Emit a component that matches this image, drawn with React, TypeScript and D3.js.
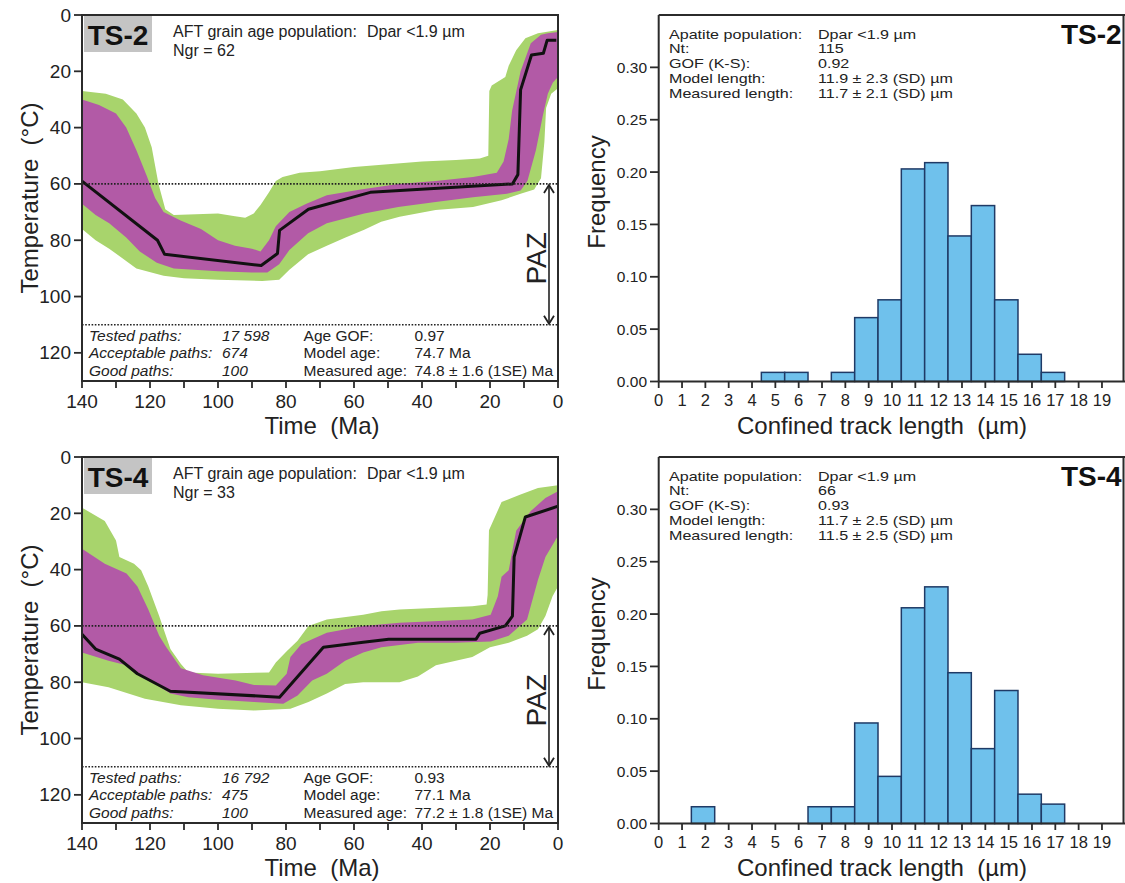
import React from "react";
import * as d3 from "d3";

const FONT = "'Liberation Sans', Arial, Helvetica, sans-serif";
const GREEN = "#a8d46c";
const PURPLE = "#b25aa6";
const BAR_FILL = "#6fc1ec";
const BAR_STROKE = "#1f3a66";
const AXIS = "#2b2b2b";
const PRE = { whiteSpace: "pre" as const };

type Pt = [number, number];

// ---------- TS-2 thermal history (age Ma, temperature °C) ----------
const ts2Best: Pt[] = [[140, 59], [117.8, 80], [115.7, 85], [87.3, 89], [82.5, 84.7], [81.9, 76.5], [73.4, 69], [55.2, 63], [13.4, 60], [11.8, 56.7], [11.0, 26.6], [7.8, 14.2], [4.3, 13.6], [3.2, 9], [0.5, 9]];
const ts2GreenTop: Pt[] = [[140, 27], [133, 28], [128, 30], [124, 35], [121.5, 40], [119.5, 47], [117.5, 60], [115.5, 69], [113, 71], [100, 70.5], [95, 71.5], [92, 72], [89.5, 70.5], [87.5, 67.5], [85, 63], [83, 59], [81, 57.5], [76, 56], [70, 55.5], [60, 54], [50, 53], [40, 52], [30, 51.5], [23, 51], [20.5, 50], [20.2, 27], [19.5, 25], [15.5, 22], [14.5, 18], [12.3, 12.5], [9.6, 8.3], [5.9, 6.5], [0, 5.3]];
const ts2GreenBot: Pt[] = [[140, 76], [136, 80], [132, 83], [124, 90], [116, 92.6], [110, 93.5], [100, 94], [87, 94.5], [82, 94], [79, 90.5], [73.5, 85], [68, 82], [62.5, 79], [57, 76.3], [52, 73.4], [46.6, 71.7], [36, 69.3], [25, 68.2], [16.6, 65.8], [11, 63.5], [7, 62], [5, 58], [4, 45], [3.5, 33], [2, 28], [0, 26]];
const ts2PurpleTop: Pt[] = [[140, 30], [135, 32], [130, 35], [127, 40], [124, 48], [121, 57], [118.5, 65], [116, 70], [111, 73], [105, 76], [100, 80], [95, 82], [90, 83], [87.5, 84], [85, 80], [83, 75], [79, 70], [74, 67], [68, 64], [58, 62], [47, 60], [36, 59], [25, 57.5], [18, 56], [16, 52], [14.5, 44], [13.5, 34], [11, 20], [8, 10], [5, 7], [3, 6.5], [0, 6]];
const ts2PurpleBot: Pt[] = [[140, 67], [136, 71], [132, 74], [127, 79], [123, 84], [118, 88], [113, 90], [100, 91], [90, 91.5], [85.5, 91.5], [82, 88.5], [79, 83.5], [73.5, 77.5], [68, 74], [57, 70.5], [47, 68.2], [36, 66.4], [25, 64.7], [15, 63.5], [11, 62.3], [9, 59], [6.5, 48], [4.5, 36], [3, 28], [1.5, 24], [0, 22]];

// ---------- TS-4 thermal history ----------
const ts4Best: Pt[] = [[140, 63], [136, 68.2], [129, 71.8], [123.7, 77], [114, 83.2], [81.9, 85.3], [69, 67.6], [57.3, 65.8], [49.8, 64.7], [24.1, 64.7], [23, 62.6], [15.5, 60], [13.4, 56.5], [12.9, 35.5], [9.6, 21.3], [0, 17.5]];
const ts4GreenTop: Pt[] = [[140, 18], [133.3, 22.7], [130, 29.7], [129, 35.5], [124.7, 37.9], [122.6, 40.2], [120.5, 46], [117.3, 56.5], [114, 68.2], [110.9, 73.5], [108.7, 76.5], [100, 77], [85, 76.5], [83, 73], [79.8, 69], [76.6, 65.3], [73.4, 60], [68, 57.7], [57.3, 56], [51.9, 54.8], [46.6, 54.2], [25.2, 53], [21, 52.4], [20.7, 49], [20.3, 26], [16.6, 16], [11.2, 13.4], [5.9, 11], [0, 10]];
const ts4GreenBot: Pt[] = [[140, 80], [132.2, 81.8], [121.5, 85.9], [110.9, 88.2], [100, 89.4], [89.4, 90], [78.7, 89.4], [73.4, 87], [68, 84], [62.6, 80.6], [57.3, 80], [46.6, 80], [41.2, 78], [35.9, 74], [25.2, 71], [20, 67.6], [14.5, 66], [9.1, 63.5], [5.9, 61.2], [3.7, 56.5], [1.6, 49.5], [0, 46]];
const ts4PurpleTop: Pt[] = [[140, 32.6], [133.3, 37.9], [126.9, 41.4], [123.7, 46], [120.5, 54.2], [117.3, 63.5], [115.2, 67.6], [110.9, 75], [104.4, 77.5], [94.8, 79.4], [89.4, 81], [83, 81.2], [79.8, 77], [78.7, 71], [75.5, 66.5], [72.3, 64.7], [68, 62.4], [57.3, 60], [46.6, 58.9], [25.2, 57.7], [19.8, 56], [17.7, 49.5], [16.6, 42.5], [14.5, 40.2], [12.3, 26.2], [8, 19.2], [3.7, 14.6], [0, 12.2]];
const ts4PurpleBot: Pt[] = [[140, 69.4], [132.2, 72.4], [126.9, 74], [121.5, 78.2], [114, 84], [108.7, 85.3], [100, 86.2], [89.4, 87], [80.8, 87.6], [76.6, 84.7], [72.3, 79.4], [68, 77], [62.6, 72.4], [57.3, 69.4], [51.9, 67.6], [41.2, 66], [30.5, 66], [19.8, 65.5], [14.5, 63.5], [9.1, 57.7], [5.9, 43.7], [3.7, 35.5], [0, 28]];

// ---------- track length histograms ----------
const ts2Bins = [5, 6, 8, 9, 10, 11, 12, 13, 14, 15, 16, 17];
const ts2Freq = [0.0087, 0.0087, 0.0087, 0.061, 0.078, 0.203, 0.209, 0.139, 0.168, 0.078, 0.026, 0.0087];
const ts4Bins = [2, 7, 8, 9, 10, 11, 12, 13, 14, 15, 16, 17];
const ts4Freq = [0.016, 0.016, 0.016, 0.096, 0.045, 0.206, 0.226, 0.144, 0.0715, 0.127, 0.028, 0.0185];

// ---------- axis ticks ----------
const timeTicks = [140, 120, 100, 80, 60, 40, 20, 0];
const timeMinorTicks = [130, 110, 90, 70, 50, 30, 10];
const tempTicks = [0, 20, 40, 60, 80, 100, 120];
const lengthTicks = d3.range(0, 20);
const freqTicks = [0, 0.05, 0.1, 0.15, 0.2, 0.25, 0.3];

// ---------- annotations ----------
const ts2Stats = [["Tested paths:", "17 598", "Age GOF:", "0.97"], ["Acceptable paths:", "674", "Model age:", "74.7 Ma"], ["Good paths:", "100", "Measured age:", "74.8 ± 1.6 (1SE) Ma"]];
const ts4Stats = [["Tested paths:", "16 792", "Age GOF:", "0.93"], ["Acceptable paths:", "475", "Model age:", "77.1 Ma"], ["Good paths:", "100", "Measured age:", "77.2 ± 1.8 (1SE) Ma"]];
const ts2Hist = [["Apatite population:", "Dpar <1.9 µm"], ["Nt:", "115"], ["GOF (K-S):", "0.92"], ["Model length:", "11.9 ± 2.3 (SD) µm"], ["Measured length:", "11.7 ± 2.1 (SD) µm"]];
const ts4Hist = [["Apatite population:", "Dpar <1.9 µm"], ["Nt:", "66"], ["GOF (K-S):", "0.93"], ["Model length:", "11.7 ± 2.5 (SD) µm"], ["Measured length:", "11.5 ± 2.5 (SD) µm"]];

const PAZ_TOP = 60;
const PAZ_BOT = 110;

interface THProps {
  dy: number; name: string; ngr: string; best: Pt[]; gTop: Pt[]; gBot: Pt[]; pTop: Pt[]; pBot: Pt[]; stats: string[][]; id: string;
}

function ThermalPanel(p: THProps) {
  const x = d3.scaleLinear().domain([140, 0]).range([82, 558]);
  const y = d3.scaleLinear().domain([0, 130]).range([15, 381]);
  const line = d3.line<Pt>().x((d) => x(d[0])).y((d) => y(d[1]));
  const poly = (top: Pt[], bot: Pt[]) => line(top.concat(bot.slice().reverse())) + "Z";
  const ax = 549;
  const fs = 15.5;
  return (
    <g transform={`translate(0,${p.dy})`} fontFamily={FONT}>
      <defs>
        <clipPath id={p.id}>
          <rect x={82} y={15} width={476} height={366} />
        </clipPath>
      </defs>
      <g clipPath={`url(#${p.id})`}>
        <path d={poly(p.gTop, p.gBot)} fill={GREEN} />
        <path d={poly(p.pTop, p.pBot)} fill={PURPLE} />
        <path d={line(p.best) || ""} fill="none" stroke="#111" strokeWidth={3} strokeLinejoin="round" />
        {[PAZ_TOP, PAZ_BOT].map((t) => (
          <line key={t} x1={82} x2={558} y1={y(t)} y2={y(t)} stroke="#222" strokeWidth={1.6} strokeDasharray="1.6,1.6" />
        ))}
      </g>
      {/* PAZ arrow */}
      <line x1={ax} x2={ax} y1={y(PAZ_TOP) + 1} y2={y(PAZ_BOT) - 1} stroke="#222" strokeWidth={1.6} />
      <polyline points={`${ax - 5},${y(PAZ_TOP) + 9} ${ax},${y(PAZ_TOP) + 1} ${ax + 5},${y(PAZ_TOP) + 9}`} fill="none" stroke="#222" strokeWidth={1.8} />
      <polyline points={`${ax - 5},${y(PAZ_BOT) - 9} ${ax},${y(PAZ_BOT) - 1} ${ax + 5},${y(PAZ_BOT) - 9}`} fill="none" stroke="#222" strokeWidth={1.8} />
      <text transform={`translate(545.5,${(y(PAZ_TOP) + y(PAZ_BOT)) / 2 + 4}) rotate(-90)`} textAnchor="middle" fontSize={28} fill="#222">PAZ</text>
      {/* name label */}
      <rect x={84} y={16} width={68} height={36} fill="#c4c4c4" />
      <text x={118} y={44.5} textAnchor="middle" fontSize={28} fontWeight="bold" fill="#111">{p.name}</text>
      <text x={173} y={37} fontSize={16} fill="#222">AFT grain age population:</text>
      <text x={367} y={37} fontSize={16} fill="#222">Dpar &lt;1.9 µm</text>
      <text x={173} y={55.5} fontSize={16} fill="#222">{`Ngr = ${p.ngr}`}</text>
      {/* stats */}
      {p.stats.map((r, i) => (
        <g key={i} fontSize={fs} fill="#222">
          <text x={89} y={340.5 + i * 17.7} fontStyle="italic">{r[0]}</text>
          <text x={222} y={340.5 + i * 17.7} fontStyle="italic">{r[1]}</text>
          <text x={303.6} y={340.5 + i * 17.7}>{r[2]}</text>
          <text x={414.5} y={340.5 + i * 17.7}>{r[3]}</text>
        </g>
      ))}
      {/* frame */}
      <rect x={82} y={15} width={476} height={366} fill="none" stroke={AXIS} strokeWidth={2} />
      {tempTicks.map((t) => (
        <g key={t}>
          <line x1={74} x2={82} y1={y(t)} y2={y(t)} stroke={AXIS} strokeWidth={1.8} />
          <text x={71} y={y(t) + 6.5} textAnchor="end" fontSize={19} fill="#222">{t}</text>
        </g>
      ))}
      {timeTicks.concat(timeMinorTicks).map((t) => (
        <line key={t} x1={x(t)} x2={x(t)} y1={381} y2={388} stroke={AXIS} strokeWidth={1.8} />
      ))}
      {timeTicks.map((t) => (
        <text key={t} x={x(t)} y={408} textAnchor="middle" fontSize={19} fill="#222">{t}</text>
      ))}
      <text x={322} y={434} textAnchor="middle" fontSize={24} fill="#222" style={PRE}>{"Time  (Ma)"}</text>
      <text transform={`translate(38,198) rotate(-90)`} textAnchor="middle" fontSize={24} fill="#222" style={PRE}>{"Temperature  (°C)"}</text>
    </g>
  );
}

interface HProps { dy: number; name: string; bins: number[]; freq: number[]; info: string[][]; }

function HistPanel(p: HProps) {
  const x = d3.scaleLinear().domain([0, 20]).range([658.7, 1125.3]);
  const y = d3.scaleLinear().domain([0, 0.35]).range([381.5, 15]);
  const fs = 13.4;
  const sx = 1.2;
  return (
    <g transform={`translate(0,${p.dy})`} fontFamily={FONT}>
      {p.bins.map((b, i) => (
        <rect key={b} x={x(b - 0.6)} y={y(p.freq[i])} width={x(b + 0.4) - x(b - 0.6)} height={y(0) - y(p.freq[i])} fill={BAR_FILL} stroke={BAR_STROKE} strokeWidth={1.5} />
      ))}
      <line x1={658.7} x2={1125} y1={15} y2={15} stroke={AXIS} strokeWidth={2} />
      <line x1={1123.5} x2={1123.5} y1={15} y2={381.5} stroke={AXIS} strokeWidth={2} />
      <line x1={658.7} x2={658.7} y1={15} y2={381.5} stroke={AXIS} strokeWidth={2} />
      <line x1={658.7} x2={1125} y1={381.5} y2={381.5} stroke={AXIS} strokeWidth={2} />
      {freqTicks.map((t) => (
        <g key={t}>
          <line x1={650} x2={658.7} y1={y(t)} y2={y(t)} stroke={AXIS} strokeWidth={1.8} />
          <text x={647} y={y(t) + 5.5} textAnchor="end" fontSize={15.5} fill="#222">{t.toFixed(2)}</text>
        </g>
      ))}
      {lengthTicks.map((t) => (
        <g key={t}>
          <line x1={x(t)} x2={x(t)} y1={381.5} y2={388} stroke={AXIS} strokeWidth={1.8} />
          <text x={x(t)} y={405.5} textAnchor="middle" fontSize={16.5} fill="#222">{t}</text>
        </g>
      ))}
      {p.info.map((r, i) => (
        <g key={i} fontSize={fs} fill="#222">
          <text transform={`translate(669,${38.5 + i * 14.85}) scale(${sx},1)`}>{r[0]}</text>
          <text transform={`translate(818,${38.5 + i * 14.85}) scale(${sx},1)`}>{r[1]}</text>
        </g>
      ))}
      <text x={1121.7} y={43.5} textAnchor="end" fontSize={28} fontWeight="bold" fill="#111">{p.name}</text>
      <text x={882} y={434} textAnchor="middle" fontSize={24} fill="#222" style={PRE}>{"Confined track length  (µm)"}</text>
      <text transform={`translate(605,192) rotate(-90)`} textAnchor="middle" fontSize={24} fill="#222">Frequency</text>
    </g>
  );
}

export default function App() {
  return (
    <svg width={1125} height={883} style={{ position: "absolute", left: 0, top: 0, background: "#fff" }}>
      <rect x={0} y={0} width={1125} height={883} fill="#fff" />
      <ThermalPanel id="c1" dy={0} name="TS-2" ngr="62" best={ts2Best} gTop={ts2GreenTop} gBot={ts2GreenBot} pTop={ts2PurpleTop} pBot={ts2PurpleBot} stats={ts2Stats} />
      <ThermalPanel id="c2" dy={442} name="TS-4" ngr="33" best={ts4Best} gTop={ts4GreenTop} gBot={ts4GreenBot} pTop={ts4PurpleTop} pBot={ts4PurpleBot} stats={ts4Stats} />
      <HistPanel dy={0} name="TS-2" bins={ts2Bins} freq={ts2Freq} info={ts2Hist} />
      <HistPanel dy={442} name="TS-4" bins={ts4Bins} freq={ts4Freq} info={ts4Hist} />
    </svg>
  );
}
